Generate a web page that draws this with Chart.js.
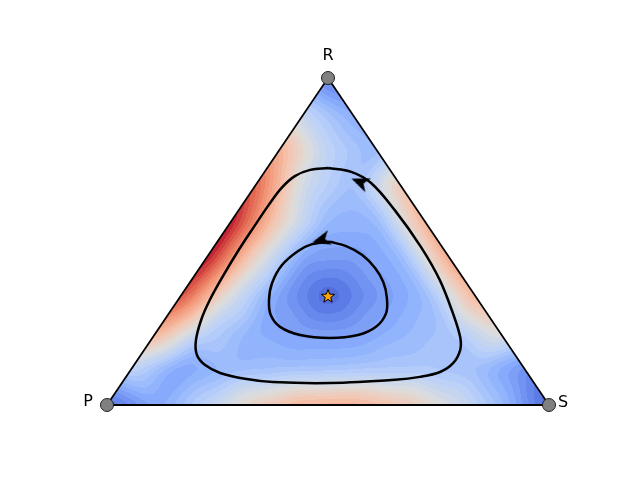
<!DOCTYPE html>
<html>
<head>
<meta charset="utf-8">
<script src="https://cdn.jsdelivr.net/npm/chart.js@4.4.0/dist/chart.umd.min.js"></script>
<style>
body { margin: 0; background: #fff; }
#wrap { width: 640px; height: 478px; }
</style>
</head>
<body>
<div id="wrap"><canvas id="chart" width="640" height="478"></canvas></div>
<script>
// corners of the simplex, as (rock share, scissors share)
const cornerLabels = ["P", "S", "R"];
const cornerR = [0, 0, 1];
const cornerS = [0, 1, 0];

// interior rest point
const restR = [1 / 3];
const restS = [1 / 3];

// two closed orbits (rock share, scissors share)
const outerR = [0.725, 0.719, 0.700, 0.664, 0.612, 0.541, 0.471, 0.398, 0.321, 0.260, 0.196, 0.153, 0.122, 0.098,
    0.080, 0.070, 0.067, 0.077, 0.086, 0.101, 0.128, 0.168, 0.208, 0.281, 0.382, 0.483, 0.596, 0.679, 0.713, 0.725];
const outerS = [0.138, 0.100, 0.075, 0.063, 0.060, 0.060, 0.061, 0.065, 0.072, 0.083, 0.103, 0.127, 0.161, 0.207,
    0.272, 0.340, 0.471, 0.613, 0.665, 0.703, 0.719, 0.715, 0.695, 0.642, 0.562, 0.469, 0.353, 0.258, 0.196, 0.138];
const innerR = [0.499, 0.492, 0.471, 0.428, 0.373, 0.321, 0.275, 0.239, 0.214, 0.205, 0.214, 0.239, 0.281, 0.330,
    0.376, 0.419, 0.459, 0.486, 0.499];
const innerS = [0.255, 0.218, 0.197, 0.182, 0.187, 0.206, 0.233, 0.272, 0.330, 0.402, 0.461, 0.489, 0.491, 0.468,
    0.437, 0.397, 0.348, 0.298, 0.255];

// direction markers on the orbits
const arrowR = [0.682, 0.505];
const arrowS = [0.231, 0.232];
const arrowAngle = [-158, 165];

// speed field (0..1 on the colour scale) on a triangular grid, row by row from the P-S edge up to R
const N = 9;
const heat0 = [0.06, 0.22, 0.40, 0.58, 0.69, 0.70, 0.62, 0.48, 0.30, 0.05];
const heat1 = [0.40, 0.20, 0.28, 0.30, 0.31, 0.33, 0.34, 0.30, 0.15];
const heat2 = [0.70, 0.38, 0.25, 0.20, 0.20, 0.27, 0.33, 0.52];
const heat3 = [0.92, 0.48, 0.20, 0.05, 0.18, 0.28, 0.68];
const heat4 = [1.00, 0.55, 0.20, 0.19, 0.27, 0.72];
const heat5 = [1.00, 0.58, 0.27, 0.27, 0.70];
const heat6 = [0.88, 0.45, 0.30, 0.63];
const heat7 = [0.70, 0.40, 0.28, 0.50];
const heat8 = [0.42, 0.25];
const heat9 = [0.10];
const heatRows = [heat0, heat1, heat2, heat3, heat4, heat5, heat6, heat7, heat8, heat9];

// coolwarm stops
const cmapStops = [
    [59, 76, 192], [98, 130, 234], [141, 176, 254], [184, 208, 249], [221, 221, 221],
    [245, 196, 173], [244, 154, 123], [222, 96, 76], [180, 4, 38]
];
const LEVELS = 32;
const BLUR = 8;

function toXY(r, s) {
    return { x: s + r / 2, y: r };
}

function pairs(rs, ss) {
    return rs.map((r, i) => toXY(r, ss[i]));
}

function coolwarm(v) {
    v = Math.max(0, Math.min(1, v));
    const t = v * (cmapStops.length - 1);
    const k = Math.min(Math.floor(t), cmapStops.length - 2);
    const f = t - k;
    const a = cmapStops[k], b = cmapStops[k + 1];
    return [a[0] + (b[0] - a[0]) * f, a[1] + (b[1] - a[1]) * f, a[2] + (b[2] - a[2]) * f];
}

function heatAt(r, s) {
    // pull points outside back onto the simplex
    let p = 1 - r - s;
    r = Math.max(0, r); s = Math.max(0, s); p = Math.max(0, p);
    const sum = r + s + p;
    r /= sum; s /= sum;
    const v = r * N, u = s * N;
    let i0 = Math.min(Math.floor(v), N - 1);
    const fv = v - i0;
    let j0 = Math.max(0, Math.min(Math.floor(u), N - 1 - i0));
    const fu = u - j0;
    const row = heatRows[i0], up = heatRows[i0 + 1];
    if (fu + fv <= 1 || j0 > N - i0 - 2) {
        return (1 - fu - fv) * row[j0] + fu * row[j0 + 1] + fv * up[j0];
    }
    return (fu + fv - 1) * up[j0 + 1] + (1 - fu) * up[j0] + (1 - fv) * row[j0 + 1];
}

function boxBlur(src, w, h, rad) {
    const tmp = new Float32Array(w * h);
    const n = 2 * rad + 1;
    for (let y = 0; y < h; y++) {
        for (let x = 0; x < w; x++) {
            let acc = 0;
            for (let k = -rad; k <= rad; k++) {
                const xx = Math.min(w - 1, Math.max(0, x + k));
                acc += src[y * w + xx];
            }
            tmp[y * w + x] = acc / n;
        }
    }
    for (let x = 0; x < w; x++) {
        for (let y = 0; y < h; y++) {
            let acc = 0;
            for (let k = -rad; k <= rad; k++) {
                const yy = Math.min(h - 1, Math.max(0, y + k));
                acc += tmp[yy * w + x];
            }
            src[y * w + x] = acc / n;
        }
    }
}

const heatmapPlugin = {
    id: "heatmap",
    beforeDatasetsDraw(chart) {
        const { ctx, chartArea, scales } = chart;
        const M = 24;
        const x0 = Math.floor(chartArea.left) - M, y0 = Math.floor(chartArea.top) - M;
        const w = Math.ceil(chartArea.right) + M - x0;
        const h = Math.ceil(chartArea.bottom) + M - y0;
        const field = new Float32Array(w * h);
        const inside = new Uint8Array(w * h);
        for (let py = 0; py < h; py++) {
            const r = scales.y.getValueForPixel(y0 + py + 0.5);
            for (let px = 0; px < w; px++) {
                const xv = scales.x.getValueForPixel(x0 + px + 0.5);
                const s = xv - r / 2;
                const p = 1 - r - s;
                field[py * w + px] = heatAt(r, s);
                inside[py * w + px] = (r >= 0 && s >= 0 && p >= 0) ? 1 : 0;
            }
        }
        boxBlur(field, w, h, BLUR);
        boxBlur(field, w, h, BLUR);

        const off = document.createElement("canvas");
        off.width = w;
        off.height = h;
        const octx = off.getContext("2d");
        const img = octx.createImageData(w, h);
        for (let k = 0; k < w * h; k++) {
            if (!inside[k]) continue;
            const v = (Math.floor(field[k] * LEVELS) + 0.5) / LEVELS;
            const c = coolwarm(v);
            img.data[4 * k] = c[0];
            img.data[4 * k + 1] = c[1];
            img.data[4 * k + 2] = c[2];
            img.data[4 * k + 3] = 255;
        }
        octx.putImageData(img, 0, 0);
        ctx.drawImage(off, x0, y0);
    }
};

const labelPlugin = {
    id: "cornerLabels",
    afterDatasetsDraw(chart) {
        const { ctx, scales } = chart;
        const offsets = { P: [-19, -3], S: [14, -2], R: [0, -22] };
        ctx.save();
        ctx.font = "16px 'DejaVu Sans'";
        ctx.fillStyle = "#000";
        ctx.textAlign = "center";
        ctx.textBaseline = "middle";
        cornerLabels.forEach((lab, i) => {
            const pt = toXY(cornerR[i], cornerS[i]);
            const px = scales.x.getPixelForValue(pt.x) + offsets[lab][0];
            const py = scales.y.getPixelForValue(pt.y) + offsets[lab][1];
            ctx.fillText(lab, px, py);
        });
        ctx.restore();
    }
};

// arrow head image, pointing to +x
const arrowImg = document.createElement("canvas");
arrowImg.width = 22;
arrowImg.height = 22;
(function () {
    const c = arrowImg.getContext("2d");
    c.fillStyle = "#000";
    c.beginPath();
    c.moveTo(20, 11);
    c.lineTo(2, 3.5);
    c.lineTo(7, 11);
    c.lineTo(2, 18.5);
    c.closePath();
    c.fill();
})();

// filled star
const starImg = document.createElement("canvas");
starImg.width = 18;
starImg.height = 18;
(function () {
    const c = starImg.getContext("2d");
    c.beginPath();
    for (let i = 0; i < 10; i++) {
        const rad = i % 2 === 0 ? 7 : 2.9;
        const a = -Math.PI / 2 + i * Math.PI / 5;
        const x = 9 + rad * Math.cos(a), y = 9.5 + rad * Math.sin(a);
        if (i === 0) c.moveTo(x, y); else c.lineTo(x, y);
    }
    c.closePath();
    c.fillStyle = "#ffa500";
    c.fill();
    c.lineWidth = 1;
    c.strokeStyle = "#000";
    c.stroke();
})();

const corners = pairs(cornerR, cornerS);
const outline = [corners[0], corners[1], corners[2], corners[0]];

new Chart(document.getElementById("chart"), {
    type: "scatter",
    data: {
        datasets: [
            {
                data: corners,
                pointRadius: 6.5,
                pointBackgroundColor: "#808080",
                pointBorderColor: "#222",
                pointBorderWidth: 1,
                showLine: false,
                clip: false
            },
            {
                data: pairs(restR, restS),
                pointStyle: starImg,
                pointRadius: 8,
                showLine: false,
                clip: false
            },
            {
                data: pairs(arrowR, arrowS),
                pointStyle: arrowImg,
                rotation: arrowAngle,
                pointRadius: 10,
                showLine: false,
                clip: false
            },
            {
                data: pairs(innerR, innerS),
                showLine: true,
                borderColor: "#000",
                borderWidth: 2.5,
                tension: 0.35,
                pointRadius: 0,
                clip: false
            },
            {
                data: pairs(outerR, outerS),
                showLine: true,
                borderColor: "#000",
                borderWidth: 2.5,
                tension: 0.35,
                pointRadius: 0,
                clip: false
            },
            {
                data: outline,
                showLine: true,
                borderColor: "#000",
                borderWidth: 1.8,
                tension: 0,
                pointRadius: 0,
                clip: false
            }
        ]
    },
    options: {
        responsive: false,
        animation: false,
        layout: { padding: { left: 107, right: 91, top: 78, bottom: 73 } },
        scales: {
            x: { type: "linear", min: 0, max: 1, display: false },
            y: { type: "linear", min: 0, max: 1, display: false }
        },
        plugins: {
            legend: { display: false },
            tooltip: { enabled: false }
        }
    },
    plugins: [heatmapPlugin, labelPlugin]
});
</script>
</body>
</html>
